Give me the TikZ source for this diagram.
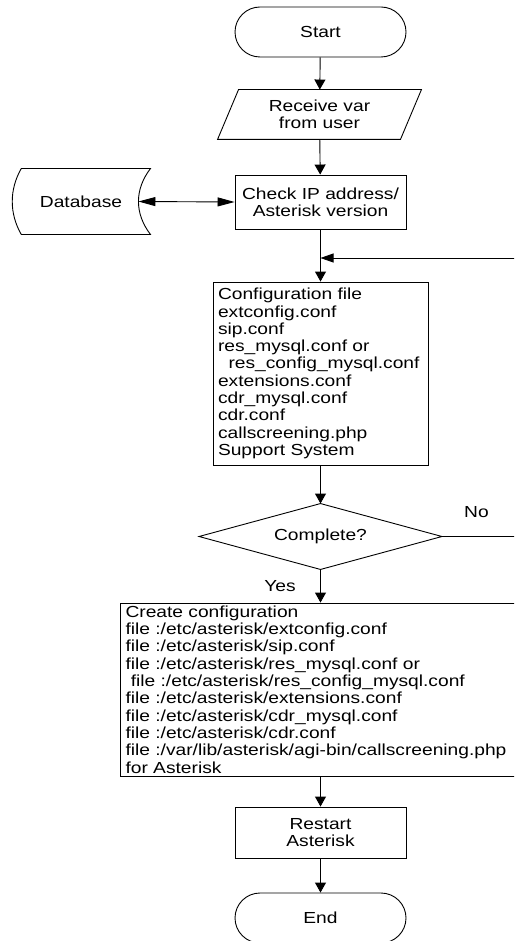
\documentclass[tikz,border=0pt]{standalone}
\usepackage{fontspec}
\setmainfont[FakeStretch=1.2]{Liberation Sans}
\usetikzlibrary{shapes.geometric,arrows.meta,calc}
\tikzset{
  base/.style={font=\fontsize{16}{17.3}\selectfont, inner sep=0pt, line width=0.9pt},
  term/.style={base, draw, rectangle, rounded corners=25pt, minimum width=171pt, minimum height=50pt, align=center},
  procbox/.style={base, draw, rectangle, minimum width=171pt, align=center},
  listbox/.style={base, draw, rectangle, align=left, inner xsep=5pt},
  plain/.style={base, align=center},
  lbl/.style={font=\fontsize{16}{17.3}\selectfont, inner sep=0pt},
  outline/.style={line width=0.9pt},
  flow/.style={line width=0.9pt, -{Triangle[length=10pt,width=11pt]}},
  hflow/.style={line width=0.9pt, -{Triangle[length=13pt,width=9pt]}},
  dbflow/.style={line width=0.9pt, {Triangle[length=17pt,width=9pt]}-{Triangle[length=17pt,width=9pt]}},
}
\begin{document}
\begin{tikzpicture}[x=1pt,y=1pt]
\useasboundingbox (0,0) rectangle (514,-941);
\clip (0,0) rectangle (514,-941);

\node[term] (start) at (320.5,-32) {Start};
\node[plain, minimum width=182pt, minimum height=49pt] (recv) at (319.5,-114.5) {Receive var\\from user};
\draw[outline] ([xshift=10.5pt]recv.north west) -- ([xshift=10.5pt]recv.north east)
  -- ([xshift=-10.5pt]recv.south east) -- ([xshift=-10.5pt]recv.south west) -- cycle;
\node[procbox, minimum height=54pt] (check) at (320.5,-202) {Check IP address/\\Asterisk version};

\node[plain, minimum width=114pt, minimum height=65pt] (db) at (81,-201.5) {Database};
\draw[outline] ($(db.north west)+(-2.3,0)$) -- ($(db.north east)+(12,0)$)
  .. controls ($(db.north east)+(-4,-21)$) and ($(db.south east)+(-4,21)$) .. ($(db.south east)+(12,0)$)
  -- ($(db.south west)+(-2.3,0)$)
  .. controls ($(db.south west)+(-14.3,21)$) and ($(db.north west)+(-14.3,-21)$) .. ($(db.north west)+(-2.3,0)$)
  -- cycle;

\node[listbox, text width=205pt, minimum height=183pt] (conf) at (320.5,-373.5) {Configuration file\\
extconfig.conf\\
sip.conf\\
res\_mysql.conf or\\
\hspace*{10.5pt}res\_config\_mysql.conf\\
extensions.conf\\
cdr\_mysql.conf\\
cdr.conf\\
callscreening.php\\
Support System};

\node[plain, minimum width=242pt, minimum height=65pt] (dia) at (320.5,-536.5) {Complete?};
\draw[outline] (dia.north) -- (dia.east) -- (dia.south) -- (dia.west) -- cycle;

\node[listbox, text width=390pt, minimum height=173pt] (create) at (320.5,-689.5) {Create configuration\\
file :/etc/asterisk/extconfig.conf\\
file :/etc/asterisk/sip.conf\\
file :/etc/asterisk/res\_mysql.conf or\\
\hspace*{5.3pt}file :/etc/asterisk/res\_config\_mysql.conf\\
file :/etc/asterisk/extensions.conf\\
file :/etc/asterisk/cdr\_mysql.conf\\
file :/etc/asterisk/cdr.conf\\
file :/var/lib/asterisk/agi-bin/callscreening.php\\
for Asterisk};

\node[procbox, minimum height=51pt] (restart) at (320.5,-832.5) {Restart\\Asterisk};
\node[term] (end) at (320.5,-918) {End};

\node[lbl] (no) at (476.5,-512.5) {No};
\node[lbl] (yes) at (280,-586.5) {Yes};

\coordinate (join) at (check.south |- 0,-258);
\coordinate (loopcorner) at (560,-536.5);

\draw[flow] (start) -- (recv);
\draw[flow] (recv) -- (check);
\draw[dbflow] (db.east) -- (check.west);
\draw[flow] (check) -- (conf);
\draw[hflow] (dia.east) -- (loopcorner) |- (join);
\draw[flow] (conf) -- (dia.north);
\draw[flow] (dia.south) -- (create);
\draw[flow] (create) -- (restart);
\draw[flow] (restart) -- (end);
\end{tikzpicture}
\end{document}
